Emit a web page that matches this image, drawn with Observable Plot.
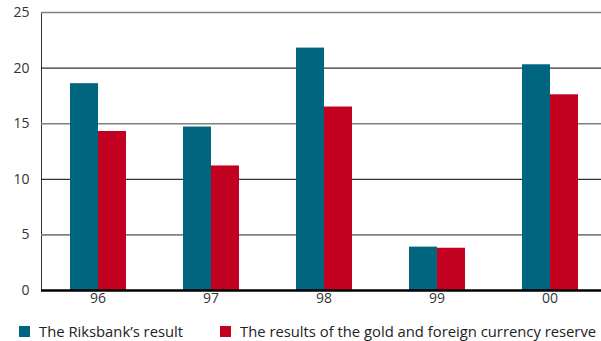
<!DOCTYPE html>
<html><head><meta charset="utf-8">
<script src="https://cdn.jsdelivr.net/npm/d3@7"></script>
<script src="https://cdn.jsdelivr.net/npm/@observablehq/plot@0.6"></script>
<style>
body{margin:0;background:#fff;font-family:"Open Sans",sans-serif;}
#legend{position:relative;height:29px;font-size:14.8px;color:#222;}
.item{display:flex;align-items:center;position:absolute;top:11px;height:16px;}
.sw{width:11px;height:11px;margin-right:9px;display:inline-block;}
</style></head><body>
<div id="chart"></div>
<div id="legend"></div>
<script>
const years = ["96","97","98","99","00"];
const seriesNames = ["The Riksbank’s result","The results of the gold and foreign currency reserve"];
const riksbank = [18.6, 14.7, 21.8, 3.9, 20.3];
const goldReserve = [14.3, 11.2, 16.5, 3.8, 17.6];
const yTicks = [0,5,10,15,20,25];
const colors = ["#00667f","#c20020"];

const data = [];
years.forEach((y,i)=>{
  data.push({year:y, series:seriesNames[0], value:riksbank[i]});
  data.push({year:y, series:seriesNames[1], value:goldReserve[i]});
});

const plot = Plot.plot({
  width: 601, height: 312,
  marginTop: 12, marginLeft: 39, marginRight: -6, marginBottom: 22,
  style: {fontFamily: '"Open Sans", sans-serif', fontSize: "14px", color: "#333", overflow: "hidden"},
  fx: {domain: years, padding: 0, label: null, tickSize: 0, tickPadding: 3, axis: "bottom"},
  x: {domain: seriesNames, paddingInner: 0, paddingOuter: 0.95, axis: null},
  y: {domain: [0,25], ticks: yTicks, tickSize: 0, tickPadding: 12, label: null, line: true},
  color: {domain: seriesNames, range: colors},
  marks: [
    Plot.ruleY(yTicks.filter(t=>t%10===5), {stroke: "#808080", strokeWidth: 1.6}),
    Plot.ruleY(yTicks.filter(t=>t%10===0 && t>0), {stroke: "#000", strokeWidth: 1}),
    Plot.barY(data, {fx: "year", x: "series", y: "value", fill: "series"}),
    Plot.ruleY([0], {stroke: "#000", strokeWidth: 2.5})
  ]
});
document.getElementById("chart").appendChild(plot);

const lg = document.getElementById("legend");
const lefts = [19, 220];
seriesNames.forEach((s,i)=>{
  const it = document.createElement("div");
  it.className = "item";
  it.style.left = lefts[i] + "px";
  it.innerHTML = `<span class="sw" style="background:${colors[i]}"></span><span>${s}</span>`;
  lg.appendChild(it);
});
</script>
</body></html>
